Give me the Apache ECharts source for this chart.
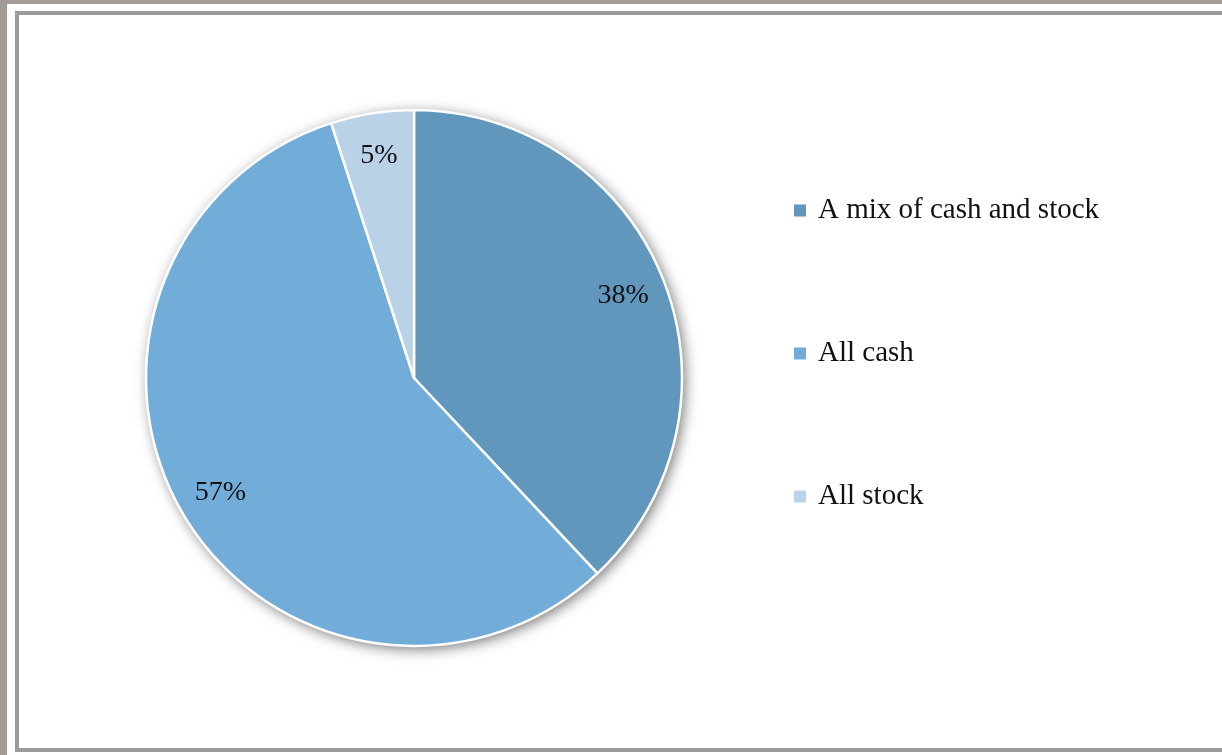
<!DOCTYPE html>
<html>
<head>
<meta charset="utf-8">
<script src="https://cdn.jsdelivr.net/npm/echarts@6/dist/echarts.min.js"></script>
<style>
  html, body { margin: 0; padding: 0; width: 1222px; height: 755px; overflow: hidden; background: #fff; }
  #outer { position: absolute; left: 0; top: 0; width: 1400px; height: 900px;
           border-left: 7px solid #a39b96; border-top: 4px solid #a39b96; box-sizing: border-box; }
  #frame { position: absolute; left: 15px; top: 11px; width: 1400px; height: 741px;
           border: 4px solid #9b9b9b; box-sizing: border-box; background: #fff; }
  #chart { position: absolute; left: 0; top: 0; width: 1222px; height: 755px; }
</style>
</head>
<body>
<div id="outer"></div>
<div id="frame"></div>
<div id="chart"></div>
<script>
// Share of deals by form of payment
const categories = ['A mix of cash and stock', 'All cash', 'All stock'];
const shares = [38, 57, 5];
const colors = ['#6197bd', '#72add9', '#bad2e8'];

const serif = '"Liberation Serif", "DejaVu Serif", serif';
const center = [414, 378];
const R = 268;

const sliceData = categories.map((name, i) => ({ name, value: shares[i], itemStyle: { color: colors[i] } }));

const chart = echarts.init(document.getElementById('chart'), null, { renderer: 'canvas' });
chart.setOption({
  animation: false,
  backgroundColor: 'transparent',
  legend: {
    orient: 'vertical',
    left: 792,
    top: 196,
    padding: 0,
    itemWidth: 14,
    itemHeight: 14,
    itemGap: 114,
    icon: 'rect',
    data: categories,
    selectedMode: false,
    textStyle: { fontFamily: serif, fontSize: 29, color: '#111', padding: [0, 0, 0, 6] }
  },
  series: [
    {
      // soft drop shadow under the whole disc
      type: 'pie', silent: true, center, radius: R,
      startAngle: 90,
      data: [{ value: 1, name: '' }],
      label: { show: false }, labelLine: { show: false },
      itemStyle: { color: '#fff', shadowBlur: 14, shadowColor: 'rgba(0,0,0,0.55)', shadowOffsetX: 3, shadowOffsetY: 3 }
    },
    {
      type: 'pie', silent: true, center, radius: R,
      startAngle: 90, clockwise: true,
      data: sliceData,
      label: { show: false }, labelLine: { show: false },
      itemStyle: { borderColor: '#fff', borderWidth: 2.5 }
    },
    {
      // ring carrying the percentage labels near the outer edge
      type: 'pie', silent: true, center, radius: [176, R],
      startAngle: 90, clockwise: true,
      data: categories.map((name, i) => ({ name, value: shares[i] })),
      itemStyle: { color: 'rgba(0,0,0,0)' },
      labelLine: { show: false },
      label: {
        show: true, position: 'inside',
        formatter: p => p.value + '%',
        fontFamily: serif, fontSize: 28, color: '#111'
      }
    }
  ]
});
</script>
</body>
</html>
